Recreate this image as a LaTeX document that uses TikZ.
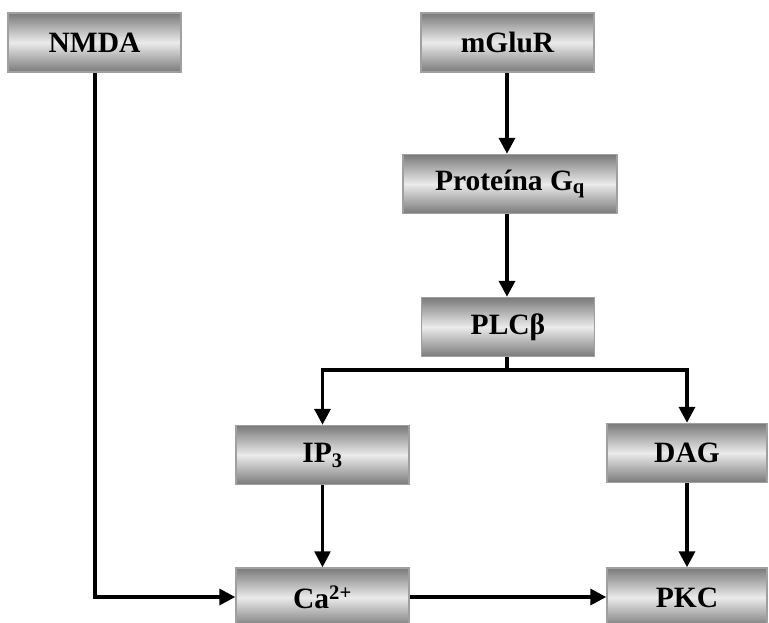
\documentclass[tikz,border=0pt]{standalone}
\usepackage{fontspec}
\setmainfont{Liberation Serif}
\usetikzlibrary{arrows.meta}
\definecolor{boxedge}{HTML}{A0A0A0}
\definecolor{boxdark}{HTML}{7A7A7A}
\definecolor{boxlight}{HTML}{EBEBEB}
\tikzset{
  molbox/.style={draw=boxedge, line width=1.5pt, top color=boxdark, bottom color=boxdark,
    middle color=boxlight, minimum height=59pt, inner sep=0pt,
    font=\fontsize{29.5}{32}\selectfont\bfseries},
  link/.style={line width=3.6pt, -{Triangle[length=16pt,width=16pt]}},
  thinlink/.style={line width=2.6pt, -{Triangle[length=16pt,width=16pt]}},
  plain/.style={line width=3.6pt}
}
\begin{document}
\begin{tikzpicture}[x=1pt,y=-1pt]
\useasboundingbox (0,0) rectangle (769,622);
% receptor and signalling boxes
\node[molbox, minimum width=173pt] (nmda) at (94.5,42.5) {NMDA};
\node[molbox, minimum width=173pt] (mglur) at (507.5,42.5) {mGluR};
\node[molbox, minimum width=214pt] (gq) at (510,184) {Proteína G\textsubscript{q}};
\node[molbox, minimum width=173pt] (plc) at (508,327) {PLCβ};
\node[molbox, minimum width=173pt] (ip3) at (322.5,455) {IP\textsubscript{3}};
\node[molbox, minimum width=160pt] (dag) at (687,453) {DAG};
\node[molbox, minimum width=173pt] (ca) at (322.5,597.5) {Ca\textsuperscript{2+}};
\node[molbox, minimum width=160pt] (pkc) at (687,597.5) {PKC};
% branching points
\coordinate (split) at (507,370);
\coordinate (nbend) at (95,597);
% connectors
\draw[link] (mglur.south -| split) -- (gq.north -| split);
\draw[link] (gq.south -| split) -- (plc.north -| split);
\draw[plain] (plc.south -| split) -- (split);
\draw[link] (split) -| (ip3.north);
\draw[link] (split) -| (dag.north);
\draw[thinlink] (ip3.south) -- (ca.north);
\draw[link] (dag.south) -- (pkc.north);
\draw[link] (nmda.south -| nbend) -- (nbend) -- (nbend -| ca.west);
\draw[link] (ca.east |- nbend) -- (nbend -| pkc.west);
\end{tikzpicture}
\end{document}
